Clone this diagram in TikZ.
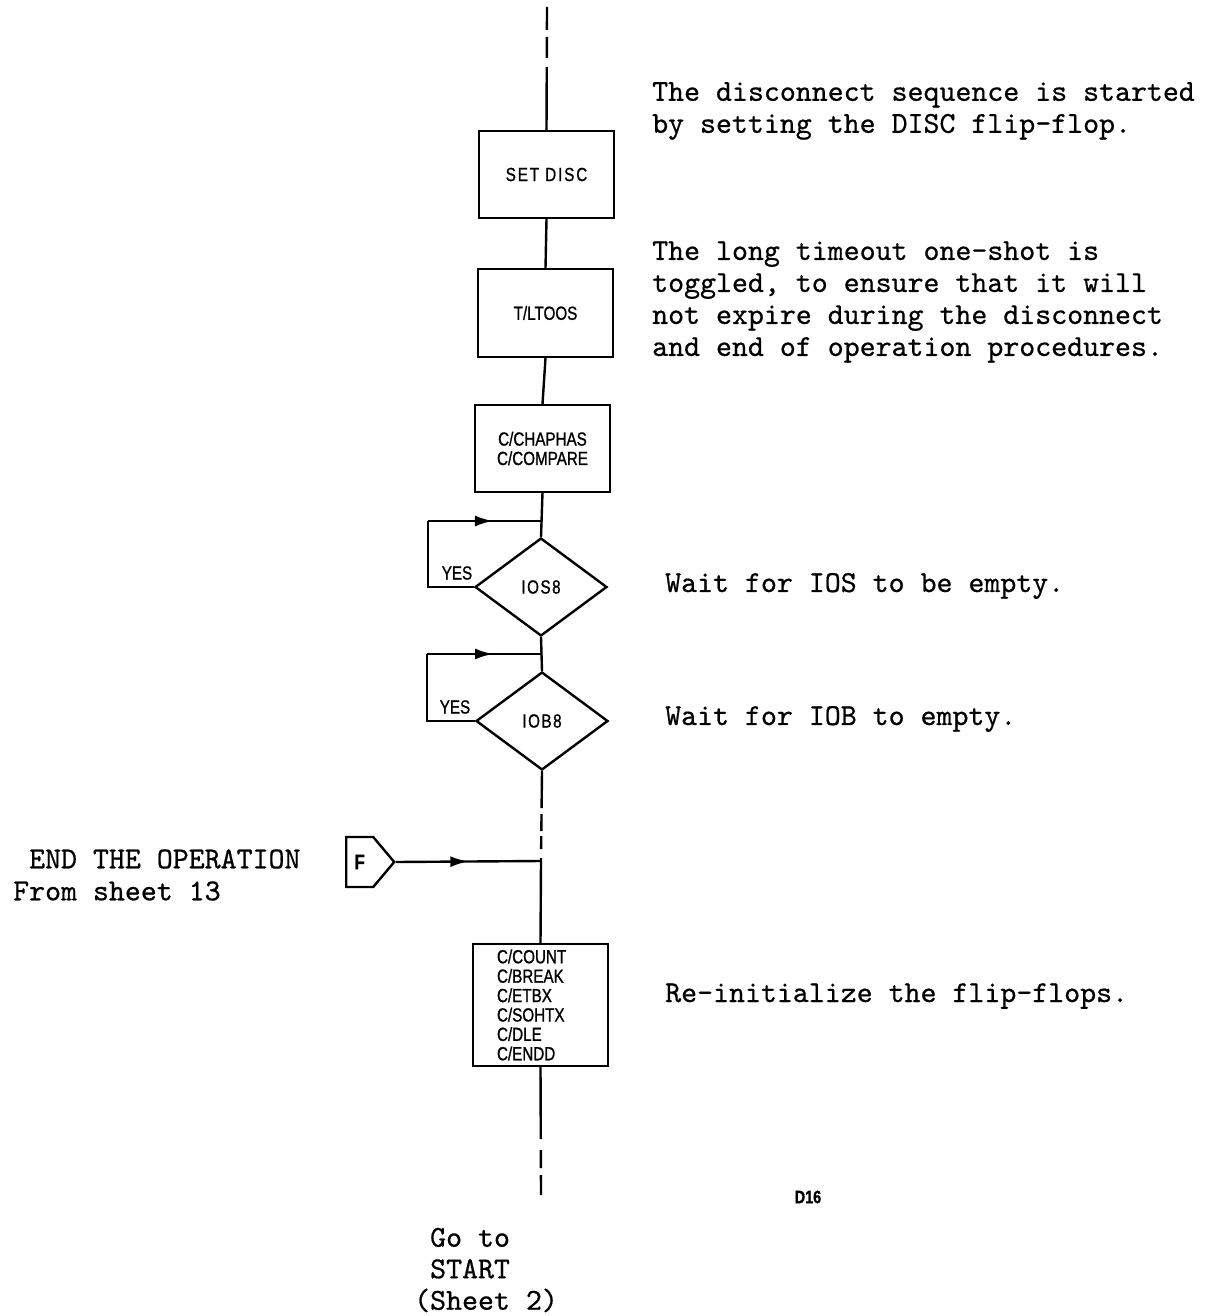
\documentclass[tikz,border=0pt]{standalone}
\usepackage{fontspec}
\usetikzlibrary{shapes.geometric,shapes.symbols,arrows.meta,decorations.markings}
\newfontfamily\chartfont[FakeStretch=0.8,FakeBold=1]{Liberation Sans}
\newfontfamily\notefont[FakeBold=0.6]{lmmono10-regular.otf}

\tikzset{
  box/.style={draw, line width=1pt, minimum width=67.5pt, inner sep=0pt, align=center,
    font=\chartfont\fontsize{9.5}{9.7}\selectfont},
  test/.style={diamond, draw, line width=1.2pt, minimum width=66pt, minimum height=49pt, inner sep=0pt,
    font=\chartfont\fontsize{9.5}{9.7}\selectfont},
  tag/.style={inner sep=0pt, font=\chartfont\fontsize{9.5}{9.7}\selectfont},
  note/.style={anchor=west, inner sep=0pt, align=left, font=\notefont\fontsize{15.2}{16}\selectfont},
  midarrow/.style={decoration={markings, mark=at position #1 with {\arrow{Latex[length=9pt,width=5.5pt]}}}, postaction=decorate}
}

\begin{document}
\begin{tikzpicture}[x=0.5pt,y=0.5pt,yscale=-1,xscale=1,line width=1.2pt]
\useasboundingbox (0,0) rectangle (1214,1316);

% Boxes
\node (b1) [box, minimum height=43.5pt] at (546.5,174.5) {\addfontfeature{LetterSpace=10}SET DISC};
\node (b2) [box, minimum height=44pt] at (545.5,313) {T/LTOOS};
\node (b3) [box, minimum height=43.5pt] at (542.5,448.5) {C/CHAPHAS\\C/COMPARE};
\node (b4) [box, minimum height=61pt, text width=43.5pt, inner xsep=12pt, align=left] at (540.5,1005)
  {C/COUNT\\C/BREAK\\C/ETBX\\C/SOHTX\\C/DLE\\C/ENDD};

% Decisions
\node (d1) [test] at (541,587) {\addfontfeature{LetterSpace=8}IOS8};
\node (d2) [test] at (542,721) {\addfontfeature{LetterSpace=8}IOB8};
\node (y1) [tag] at (457,573) {YES};
\node (y2) [tag] at (455,707) {YES};

% Off-page connector
\node (F) [signal, signal to=east, signal pointer angle=100, draw, line width=1.2pt, minimum width=24pt,
  minimum height=25pt, inner sep=0pt, anchor=west, font=\chartfont\bfseries\fontsize{10.5}{10.5}\selectfont] at (345,862) {F};

% Joints and ends
\coordinate (top) at (547,7);
\coordinate (j1) at (541,521);
\coordinate (c1) at (428,521);
\coordinate (j2) at (541,654);
\coordinate (c2) at (427,654);
\coordinate (jF) at (541,861);
\coordinate (end) at (541,1195);

%Straight Lines
\draw [dash pattern=on 11.5pt off 3.5pt on 10.5pt off 4.5pt on 40pt off 0pt] (top) -- (b1.north);
\draw (b1.south) -- (b2.north);
\draw (b2.south) -- (b3.north);
\draw (b3.south) -- (d1.north);
\draw (d1.south) -- (d2.north);
\draw [dash pattern=on 18.5pt off 3pt on 8.5pt off 2.5pt on 6.5pt off 4.5pt on 10pt off 0pt] (d2.south) -- (jF);
\draw (jF) -- (b4.north);
\draw [dash pattern=on 36pt off 5.5pt on 9pt off 3.5pt on 10.5pt off 0pt] (b4.south) -- (end);

% YES loops
\draw (d1.west) -| (c1);
\draw [midarrow=0.575] (c1) -- (j1);
\draw (d2.west) -| (c2);
\draw [midarrow=0.58] (c2) -- (j2);

% Entry from F
\draw [midarrow=0.5] (F.east) -- (jF);

% Text Node
\node (n1) [note] at (651,111) {The disconnect sequence is started\\by setting the DISC flip-flop.};
% Text Node
\node (n2) [note] at (651,302) {The long timeout one-shot is\\toggled, to ensure that it will\\not expire during the disconnect\\and end of operation procedures.};
% Text Node
\node (n3) [note] at (664,586) {Wait for IOS to be empty.};
% Text Node
\node (n4) [note] at (664,719) {Wait for IOB to empty.};
% Text Node
\node (n5) [note] at (664,996) {Re-initialize the flip-flops.};
% Text Node
\node (n6) [note] at (12,875) {\hphantom{F}END THE OPERATION\\From sheet 13};
% Text Node
\node (n7) [note, font=\notefont\fontsize{15.2}{15.75}\selectfont] at (413,1270) {\hphantom{(}Go to\\\hphantom{(}START\\(Sheet 2)};
% Text Node
\node (pg) [tag, font=\chartfont\bfseries\fontsize{9}{9}\selectfont] at (808,1197) {D16};

\end{tikzpicture}
\end{document}
